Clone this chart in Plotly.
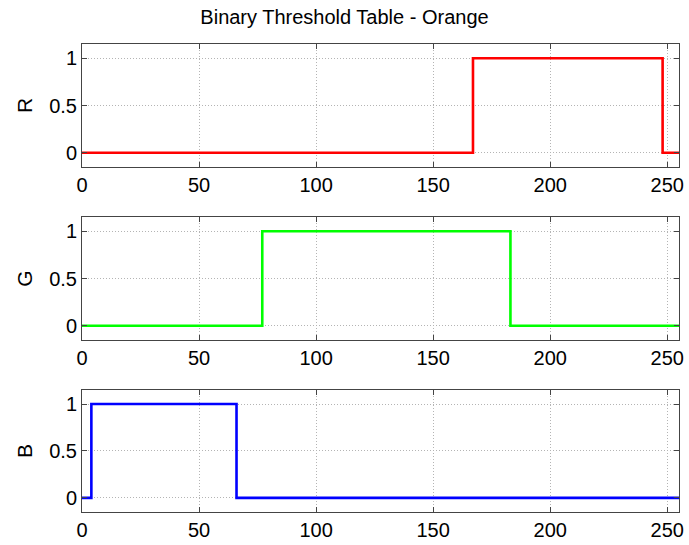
import plotly.graph_objects as go

# Step breakpoints (x = level index, value held until next x)
r_x = [0, 167, 248, 255]
r_y = [0, 1, 0, 0]
g_x = [0, 77, 183, 255]
g_y = [0, 1, 0, 0]
b_x = [0, 4, 66, 255]
b_y = [0, 1, 0, 0]
channels = ["R", "G", "B"]
colors = ["#ff0000", "#00ff00", "#0000ff"]
x_ticks = [0, 50, 100, 150, 200, 250]
y_ticks = [0, 0.5, 1]
y_tick_text = ["0", "0.5", "1"]

fig = go.Figure()
series = [(r_x, r_y), (g_x, g_y), (b_x, b_y)]
domains = [[0.7372, 1.0], [0.3675, 0.6303], [0.0, 0.2607]]
font = "Liberation Sans, Arial, Helvetica, sans-serif"

for i, ((xs, ys), c) in enumerate(zip(series, colors)):
    n = "" if i == 0 else str(i + 1)
    fig.add_trace(go.Scatter(x=xs, y=ys, mode="lines", line=dict(color=c, width=2.6, shape="hv"),
                             xaxis="x" + n, yaxis="y" + n, showlegend=False))
    axcommon = dict(showline=True, linecolor="#444", linewidth=1, mirror="ticks", ticks="inside",
                    ticklen=5, tickcolor="#444", showgrid=True, gridcolor="#b4b4b4", griddash="1px,2px",
                    gridwidth=1, zeroline=False, automargin=False,
                    tickfont=dict(family=font, size=20, color="black"))
    fig.update_layout(**{
        "xaxis" + n: dict(range=[0, 255], tickvals=x_ticks, anchor="y" + n, domain=[0, 1], **axcommon),
        "yaxis" + n: dict(range=[-0.15, 1.15], tickvals=y_ticks, ticktext=y_tick_text, anchor="x" + n,
                          domain=domains[i],
                          title=dict(text=channels[i], font=dict(family=font, size=21, color="black"), standoff=10),
                          **axcommon),
    })

fig.update_layout(
    width=689, height=545,
    margin=dict(l=82, r=10, t=44, b=33),
    paper_bgcolor="white", plot_bgcolor="white",
    title=dict(text="Binary Threshold Table - Orange", x=0.5, xanchor="center", y=1 - 17 / 545, yanchor="middle",
               font=dict(family=font, size=20, color="black")),
)

fig.write_html("out.html")
